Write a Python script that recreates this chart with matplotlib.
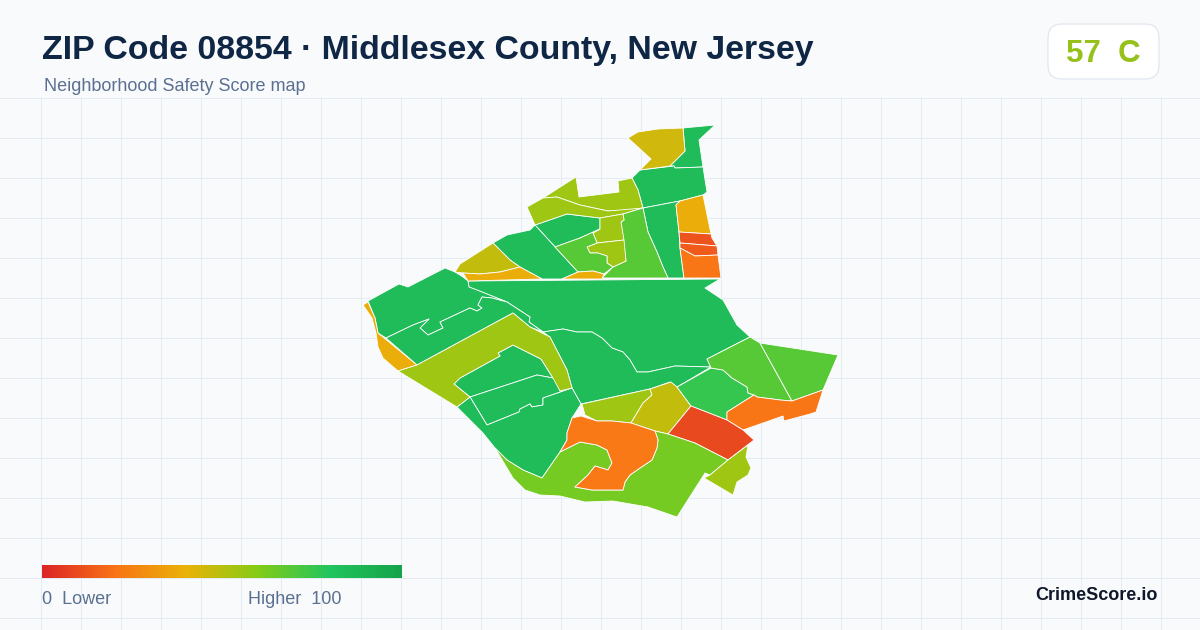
import matplotlib
matplotlib.use('Agg')
import matplotlib.pyplot as plt
import numpy as np
from matplotlib.colors import LinearSegmentedColormap
from matplotlib.patches import FancyBboxPatch

title = 'ZIP Code 08854 · Middlesex County, New Jersey'
subtitle = 'Neighborhood Safety Score map'
score_text = '57  C'
brand = 'CrimeScore.io'

# legend colours, 0 to 100
ramp_stops = [0, 20, 40, 60, 80, 100]
ramp_colors = ['#dc2626', '#f97316', '#eab308', '#84cc16', '#22c55e', '#16a34a']

# tract outlines in pixels, with the safety score of each
tract_scores = [85, 85, 85, 85, 85, 85, 85, 85, 85, 85, 85, 85,
                45, 55, 55, 69, 38, 12, 14, 21, 55, 55, 69, 38, 48, 38,
                38, 55, 55, 48, 76, 69, 69, 21, 9, 63, 22, 55]
tract_outlines = [
    [(683, 128), (715, 125), (699, 140), (703, 167), (675, 168), (674, 166), (670, 166), (685, 151)],
    [(640, 170), (674, 166), (675, 168), (703, 167), (707, 192), (703, 195), (680, 201), (643, 208), (638, 190), (632, 178)],
    [(643, 208), (648, 232), (657, 252), (663, 267), (668, 278), (684, 278), (680, 248), (679, 232), (676, 205), (680, 201)],
    [(535, 225), (567, 214), (600, 218), (600, 229), (580, 238), (555, 247)],
    [(493, 243), (507, 235), (530, 230), (535, 225), (578, 272), (562, 279), (542, 279), (520, 267), (510, 260)],
    [(468, 281), (720, 279), (705, 288), (723, 300), (737, 325), (750, 337), (707, 359), (711, 367), (675, 366), (648, 372),
     (637, 372), (630, 360), (623, 352), (612, 348), (602, 338), (592, 332), (577, 332), (563, 329), (543, 332), (529, 322),
     (530, 317), (507, 302), (497, 298), (469, 287)],
    [(543, 332), (563, 329), (577, 332), (592, 332), (602, 338), (612, 348), (623, 352), (630, 360), (637, 372), (648, 372),
     (675, 366), (711, 367), (677, 387), (670, 382), (650, 389), (581, 404), (572, 388), (567, 370), (550, 337)],
    [(368, 301), (399, 284), (408, 287), (445, 268), (455, 272), (463, 277), (468, 281), (469, 287), (477, 290), (497, 298),
     (507, 302), (492, 298), (482, 297), (478, 305), (482, 308), (477, 311), (470, 308), (440, 322), (443, 328), (428, 335),
     (420, 328), (429, 319), (413, 325), (386, 338), (378, 333), (375, 318)],
    [(386, 338), (413, 325), (429, 319), (420, 328), (428, 335), (443, 328), (440, 322), (470, 308), (477, 311), (482, 308),
     (478, 305), (482, 297), (492, 298), (507, 302), (530, 317), (529, 322), (543, 332), (530, 327), (513, 313), (417, 365)],
    [(454, 384), (460, 378), (500, 356), (498, 353), (513, 345), (541, 359), (553, 378), (537, 375), (470, 397)],
    [(470, 397), (537, 375), (553, 378), (557, 378), (560, 391), (572, 388), (543, 398), (543, 405), (532, 407), (530, 404),
     (520, 409), (519, 412), (487, 425)],
    [(457, 407), (470, 397), (487, 425), (519, 412), (520, 409), (530, 404), (532, 407), (543, 405), (543, 398), (572, 388),
     (581, 404), (572, 418), (567, 433), (567, 440), (560, 452), (542, 478), (523, 470), (507, 460), (495, 448), (483, 433)],
    [(628, 138), (638, 132), (658, 129), (683, 128), (685, 151), (670, 166), (640, 170), (651, 159)],
    [(543, 198), (576, 177), (579, 197), (619, 192), (618, 181), (632, 178), (638, 190), (643, 208), (630, 210), (608, 211),
     (580, 205), (557, 197)],
    [(527, 207), (543, 198), (557, 197), (580, 205), (608, 211), (643, 208), (623, 214), (600, 218), (567, 214), (535, 225)],
    [(643, 208), (623, 214), (624, 220), (621, 222), (626, 261), (613, 267), (602, 278), (668, 278), (663, 267), (657, 252),
     (648, 232)],
    [(676, 205), (680, 201), (703, 195), (711, 234), (679, 232)],
    [(679, 232), (711, 234), (712, 238), (717, 246), (680, 243)],
    [(680, 243), (717, 246), (718, 255), (695, 256), (680, 248)],
    [(680, 248), (695, 256), (718, 255), (721, 278), (684, 278)],
    [(600, 218), (623, 214), (624, 220), (621, 222), (624, 240), (597, 243), (593, 233), (600, 229)],
    [(597, 243), (624, 240), (626, 261), (613, 267), (607, 263), (607, 256), (598, 253), (590, 253), (587, 247)],
    [(555, 247), (580, 238), (600, 229), (593, 233), (597, 243), (587, 247), (590, 253), (598, 253), (607, 256), (607, 263),
     (613, 267), (604, 274), (593, 271), (578, 272)],
    [(562, 279), (578, 272), (593, 271), (604, 274), (602, 279)],
    [(455, 272), (460, 264), (493, 243), (510, 260), (520, 267), (500, 272), (480, 274), (463, 273)],
    [(463, 273), (480, 274), (500, 272), (520, 267), (542, 279), (468, 281)],
    [(363, 305), (368, 302), (375, 318), (378, 333), (417, 365), (398, 371), (383, 358), (378, 347), (376, 333), (372, 318)],
    [(398, 371), (417, 365), (513, 313), (530, 327), (550, 337), (567, 370), (572, 388), (560, 391), (553, 378), (541, 359),
     (513, 345), (498, 353), (500, 356), (460, 378), (454, 384), (470, 397), (457, 407)],
    [(582, 404), (650, 389), (652, 395), (643, 403), (631, 423), (612, 421), (597, 421), (585, 415)],
    [(650, 389), (671, 382), (677, 387), (691, 406), (668, 434), (655, 431), (631, 423), (643, 403), (652, 395)],
    [(677, 387), (711, 368), (723, 370), (732, 378), (747, 387), (748, 393), (754, 395), (727, 412), (727, 420), (691, 406)],
    [(707, 359), (750, 337), (760, 343), (792, 401), (780, 400), (757, 397), (754, 395), (748, 393), (747, 387), (732, 378),
     (723, 370), (711, 368)],
    [(760, 343), (838, 355), (823, 390), (792, 401)],
    [(727, 412), (754, 395), (757, 397), (780, 400), (792, 401), (823, 390), (816, 412), (810, 414), (784, 421), (783, 416),
     (743, 430), (727, 420)],
    [(691, 406), (727, 420), (743, 430), (754, 440), (728, 460), (695, 443), (668, 434)],
    [(655, 431), (668, 434), (695, 443), (728, 460), (710, 475), (705, 473), (677, 517), (648, 507), (613, 501), (585, 502),
     (560, 496), (540, 495), (525, 490), (513, 478), (495, 448), (507, 460), (523, 470), (542, 478), (560, 452), (570, 447),
     (580, 442), (597, 445), (607, 450), (612, 463), (608, 470), (595, 466), (588, 475), (575, 487), (592, 490), (623, 490),
     (625, 482), (630, 475), (640, 468), (652, 460), (657, 448), (658, 440)],
    [(572, 418), (581, 416), (597, 421), (612, 421), (631, 423), (655, 431), (658, 440), (657, 448), (652, 460), (640, 468),
     (630, 475), (625, 482), (623, 490), (592, 490), (575, 487), (588, 475), (595, 466), (608, 470), (612, 463), (607, 450),
     (597, 445), (580, 442), (570, 447), (560, 452), (567, 440), (567, 433)],
    [(748, 445), (746, 457), (751, 468), (748, 475), (737, 482), (733, 495), (704, 478), (710, 475), (728, 460)],
]

plt.rcParams['font.family'] = ['Liberation Sans', 'DejaVu Sans']

fig = plt.figure(figsize=(12, 6.3), dpi=100, facecolor='#f8fafc')
ax = fig.add_axes([0, 0, 1, 1])
ax.set_xlim(0, 1200)
ax.set_ylim(630, 0)
ax.axis('off')

# background grid below the header
ax.vlines(np.arange(40, 1200, 40) + 0.5, 97, 630, color='#e4ebf3', lw=0.72, zorder=1)
ax.hlines(np.arange(97, 630, 40) + 0.5, 0, 1200, color='#e4ebf3', lw=0.72, zorder=1)

score_cmap = LinearSegmentedColormap.from_list(
    'score', [(s / 100, c) for s, c in zip(ramp_stops, ramp_colors)])

for outline, score in zip(tract_outlines, tract_scores):
    xs, ys = zip(*outline)
    ax.fill(xs, ys, facecolor=score_cmap(score / 100), edgecolor='white', lw=0.6, joinstyle='round', zorder=2)

# legend bar
ramp = np.linspace(0, 1, 360).reshape(1, -1)
ax.imshow(ramp, cmap=score_cmap, extent=(42, 402, 578, 565), aspect='auto', zorder=3)
ax.set_xlim(0, 1200)
ax.set_ylim(630, 0)
ax.text(42, 599, '0  Lower', fontsize=13, color='#5b7090', va='center', ha='left', zorder=4)
ax.text(342, 599, 'Higher  100', fontsize=13, color='#5b7090', va='center', ha='right', zorder=4)

# header
ax.text(42, 50.5, title, fontsize=24.4, fontweight='bold', color='#0f2744', va='center', ha='left')
ax.text(44, 86.5, subtitle, fontsize=13, color='#5b7090', va='center', ha='left')

box = FancyBboxPatch((1060, 36), 87, 31, boxstyle='round,pad=12,rounding_size=14',
                     facecolor='white', edgecolor='#dde5ee', lw=0.8, zorder=3)
ax.add_patch(box)
ax.text(1103.5, 54, score_text, fontsize=22.5, fontweight='bold', color='#95c11a', va='center', ha='center', zorder=4)

ax.text(1158, 595, brand, fontsize=13, fontweight='bold', color='#0f172a', va='center', ha='right', zorder=4)

fig.savefig('out.png', dpi=100, facecolor=fig.get_facecolor())
